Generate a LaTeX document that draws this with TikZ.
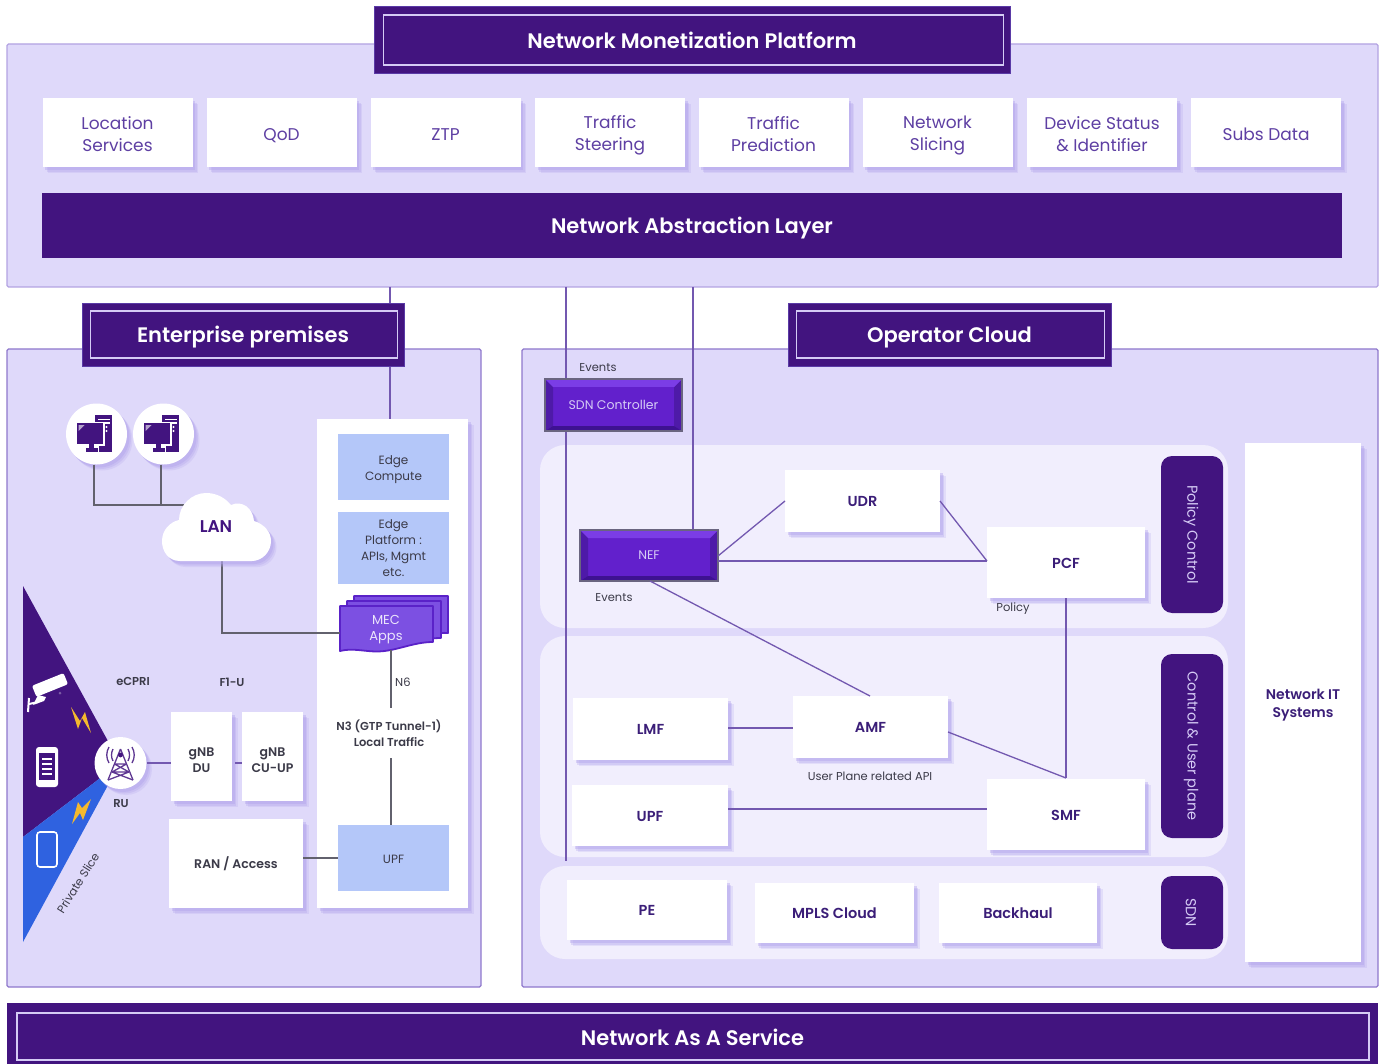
\documentclass[tikz,border=0pt]{standalone}
\usepackage{fontspec}
\setmainfont{Poppins}[BoldFont={Poppins SemiBold}]
\usetikzlibrary{shadows,calc}
\newcommand\boxstrut{\rule[-.17\baselineskip]{0pt}{\baselineskip}}
\definecolor{panelc}{HTML}{DFD9FA}
\definecolor{panelln}{HTML}{B3A3E2}
\definecolor{panelld}{HTML}{8F78CC}
\definecolor{inner}{HTML}{F1EEFD}
\definecolor{deep}{HTML}{42147F}
\definecolor{deepedge}{HTML}{5A3AA6}
\definecolor{linec}{HTML}{7358B0}
\definecolor{shade}{HTML}{B0A2EC}
\definecolor{tealtxt}{HTML}{5E3FA3}
\definecolor{cardtxt}{HTML}{3B1E78}
\definecolor{greytxt}{HTML}{3B3A48}
\definecolor{edgeb}{HTML}{B4C7F9}
\definecolor{btn}{HTML}{6220CC}
\definecolor{btnup}{HTML}{7B3DE6}
\definecolor{btndn}{HTML}{3E1291}
\definecolor{btnside}{HTML}{4E1AA8}
\definecolor{btnedge}{HTML}{6A6580}
\definecolor{mecf}{HTML}{7C50E2}
\definecolor{mecl}{HTML}{5A22C8}
\definecolor{sliceb}{HTML}{2F62E0}
\definecolor{bolt}{HTML}{F4B92E}
\definecolor{lilac}{HTML}{D5CBF5}
\tikzset{
  x=1pt,y=-1pt,
  struts/.style={execute at begin node=\boxstrut,execute at end node=\boxstrut},
  panel/.style={fill=panelc,draw=panelln,line width=1.3pt,rounded corners=1.5pt},
  lowpanel/.style={panel,draw=panelld},
  titlebox/.style={fill=deep,draw=deepedge,line width=1pt,inner sep=0pt,struts,text=white,font=\fontsize{21}{25}\selectfont\bfseries},
  titleline/.style={draw=lilac,line width=1.7pt},
  softshadow/.style={
    general shadow={shadow xshift=5.5pt,shadow yshift=-6pt,fill=shade,opacity=.22},
    general shadow={shadow xshift=4pt,shadow yshift=-4.5pt,fill=shade,opacity=.3},
    general shadow={shadow xshift=2.5pt,shadow yshift=-3pt,fill=shade,opacity=.4}},
  topcard/.style={fill=white,inner sep=0pt,softshadow,align=center,struts,text=tealtxt,font=\fontsize{17}{22}\selectfont,minimum width=150pt,minimum height=69pt},
  toptext/.style={inner sep=0pt,align=center,struts,text=tealtxt,font=\fontsize{17}{22}\selectfont},
  card/.style={fill=white,inner sep=0pt,softshadow,align=center,struts,text=cardtxt,font=\fontsize{14.5}{18}\selectfont\bfseries},
  smallcard/.style={fill=white,inner sep=0pt,softshadow,align=center,struts,text=greytxt,font=\fontsize{12.5}{16}\selectfont\bfseries},
  smalltext/.style={inner sep=0pt,align=center,struts,text=greytxt,font=\fontsize{12.5}{16}\selectfont\bfseries},
  edgebox/.style={fill=edgeb,inner sep=0pt,align=center,struts,text=greytxt,font=\fontsize{12}{16}\selectfont,minimum width=111pt},
  edgetext/.style={inner sep=0pt,align=center,struts,text=greytxt,font=\fontsize{12}{16}\selectfont},
  band/.style={fill=inner,draw=none,rounded corners=25pt,inner sep=0pt,minimum width=688pt},
  pill/.style={fill=deep,rounded corners=11pt,inner sep=0pt,minimum width=62pt},
  pilltext/.style={rotate=-90,inner sep=0pt,text=lilac,font=\fontsize{14.5}{16}\selectfont},
  lbl/.style={inner sep=0pt,text=greytxt,align=center,font=\fontsize{11.5}{16}\selectfont},
  blbl/.style={lbl,font=\fontsize{11.5}{16}\selectfont\bfseries},
  conn/.style={draw=linec,line width=1.3pt},
  greyconn/.style={draw=greytxt!80,line width=1.5pt},
  bevel/.style={fill=btn,draw=btnedge,line width=1.2pt,inner sep=0pt,text=lilac,font=\fontsize{12.5}{15}\selectfont,
    path picture={
      \fill[btnside] (path picture bounding box.north west) -- ([shift={(8pt,-8pt)}]path picture bounding box.north west) -- ([shift={(8pt,5pt)}]path picture bounding box.south west) -- (path picture bounding box.south west) -- cycle;
      \fill[btnside] (path picture bounding box.north east) -- ([shift={(-8pt,-8pt)}]path picture bounding box.north east) -- ([shift={(-8pt,5pt)}]path picture bounding box.south east) -- (path picture bounding box.south east) -- cycle;
      \fill[btnup] (path picture bounding box.north west) -- (path picture bounding box.north east) -- ([shift={(-8pt,-8pt)}]path picture bounding box.north east) -- ([shift={(8pt,-8pt)}]path picture bounding box.north west) -- cycle;
      \fill[btndn] (path picture bounding box.south west) -- (path picture bounding box.south east) -- ([shift={(-8pt,5pt)}]path picture bounding box.south east) -- ([shift={(8pt,5pt)}]path picture bounding box.south west) -- cycle;
    }},
  dot/.style={circle,fill=white,inner sep=0pt,softshadow,minimum size=61pt},
  pics/pcicon/.style={code={
    \fill[deep] (-1.5,-19) rectangle (15.5,17.5);
    \fill[white] (1,-15.5) rectangle (13,-14);
    \fill[white] (1,-12) rectangle (13,-10.5);
    \fill[white] (10,-7) circle (1.2pt) (10,-3) circle (1.2pt);
    \fill[white] (-21,-12.5) rectangle (8,11.5);
    \fill[deep] (-19.5,-11) rectangle (6.5,10);
    \fill[white] (-11.5,11) rectangle (2.5,18);
    \fill[deep] (-8,10) rectangle (-3,14);
    \fill[deep] (-11,14) rectangle (1,17.5);
    \fill[white!60!deep] (-18,-9) -- (-12,-9) -- (-18,-3) -- cycle;
  }},
}
\begin{document}
\begin{tikzpicture}
\useasboundingbox[fill=white] (0,0) rectangle (1384,1064);

% ---- top panel
\node[panel,inner sep=0pt,minimum width=1371pt,minimum height=243pt] (toppanel) at (692.5,165.5) {};
\coordinate (vA) at (390,287);
\coordinate (vB) at (566,287);
\coordinate (vC) at (693,287);

% ---- lower panels
\node[lowpanel,inner sep=0pt,minimum width=474pt,minimum height=638pt] (entpanel) at (244,668) {};
\node[lowpanel,inner sep=0pt,minimum width=856pt,minimum height=638pt] (oppanel) at (950,668) {};

% ---- bands
\node[band,minimum height=183pt] (bandA) at (884,536.5) {};
\node[band,minimum height=221pt] (bandB) at (884,746.5) {};
\node[band,minimum height=93pt] (bandC) at (884,912.5) {};

% ---- nodes that connectors attach to
\node[titlebox,minimum width=636pt,minimum height=67pt] (tMon) at (692,40) {Network Monetization Platform};
\draw[titleline] ([shift={(10pt,9pt)}]tMon.south west) rectangle ([shift={(-7pt,-9pt)}]tMon.north east);

\node[topcard] (c1) at (117.5,133) {};
\node[toptext] (c1t) at (117.5,135.5) {Location\\Services};
\node[topcard] (c2) at (281.5,133) {QoD};
\node[topcard] (c3) at (445.5,133) {ZTP};
\node[topcard] (c4) at (610,133) {};
\node[toptext] (c4t) at (610,135.5) {Traffic\\Steering};
\node[topcard] (c5) at (773.5,133) {};
\node[toptext] (c5t) at (773.5,135.5) {Traffic\\Prediction};
\node[topcard] (c6) at (937.5,133) {};
\node[toptext] (c6t) at (937.5,135.5) {Network\\Slicing};
\node[topcard] (c7) at (1102,133) {};
\node[toptext] (c7t) at (1102,135.5) {Device Status\\\& Identifier};
\node[topcard] (c8) at (1266,133) {Subs Data};
\node[fill=deep,inner sep=0pt,struts,minimum width=1300pt,minimum height=65pt,text=white,font=\fontsize{21}{25}\selectfont\bfseries] (nal) at (692,225.5) {Network Abstraction Layer};

% enterprise white column
\node[fill=white,inner sep=0pt,softshadow,minimum width=151pt,minimum height=489pt] (edgecol) at (392.5,663.5) {};

% vertical trunk lines
\draw[conn] (vA) -- (vA |- edgecol.north);
\coordinate (trunkEnd) at (566,861);
\draw[conn] (vB) -- (trunkEnd);

\node[bevel,minimum width=137pt,minimum height=52pt] (sdn) at (613.5,405) {SDN Controller};
\node[bevel,minimum width=138pt,minimum height=51pt] (nef) at (649,555.5) {NEF};
\draw[conn] (vC) -- (vC |- nef.north);

% right-hand cards
\node[card,minimum width=155pt,minimum height=62pt] (udr) at (862.5,501) {UDR};
\node[card,minimum width=158pt,minimum height=71pt] (pcf) at (1066,562.5) {PCF};
\node[card,minimum width=155pt,minimum height=62pt] (lmf) at (650.5,729) {LMF};
\node[card,minimum width=155pt,minimum height=62pt] (amf) at (870.5,727) {AMF};
\node[card,minimum width=156pt,minimum height=61pt] (upfr) at (650,815.5) {UPF};
\node[card,minimum width=158pt,minimum height=71pt] (smf) at (1066,814.5) {SMF};
\node[card,minimum width=160pt,minimum height=60pt] (pe) at (647,910) {PE};
\node[card,minimum width=159pt,minimum height=60pt] (mpls) at (834.5,913) {MPLS Cloud};
\node[card,minimum width=158pt,minimum height=60pt] (back) at (1018,913) {Backhaul};

\coordinate (nefE1) at (718,556);
\coordinate (nefE2) at (718,561);
\coordinate (nefS) at (650,581);
\coordinate (udrW) at (785,501);
\coordinate (udrE) at (940,501);
\coordinate (pcfW) at (987,561);
\coordinate (amfN) at (870,696);
\coordinate (amfE) at (948,732);
\coordinate (smfN) at (1066,778);
\coordinate (pcfS) at (1066,598);
\coordinate (upfE) at (728,809);
\coordinate (smfW) at (987,809);
\coordinate (lmfE) at (728,728);
\coordinate (amfW) at (793,728);
\draw[conn] (nefE1) -- (udrW);
\draw[conn] (udrE) -- (pcfW);
\draw[conn] (nefE2) -- (pcfW);
\draw[conn] (nefS) -- (amfN);
\draw[conn] (amfE) -- (smfN);
\draw[conn] (pcfS) -- (smfN);
\draw[conn] (lmfE) -- (amfW);
\draw[conn] (upfE) -- (smfW);

\node[pill,minimum height=157pt] (pPol) at (1192,534.5) {};
\node[pill,minimum height=184pt] (pCtl) at (1192,746) {};
\node[pill,minimum height=73pt] (pSdn) at (1192,912.5) {};
\node[pilltext] (pPolT) at (1191,534.5) {Policy Control};
\node[pilltext] (pCtlT) at (1191,746) {Control \& User plane};
\node[pilltext] (pSdnT) at (1191,912.5) {SDN};
\node[fill=white,inner sep=0pt,softshadow,minimum width=116pt,minimum height=519pt] (netit) at (1303,702.5) {};
\node[inner sep=0pt,align=center,struts,text=cardtxt,font=\fontsize{14}{18}\selectfont\bfseries] (netitT) at (1303,705) {Network IT\\Systems};

\node[lbl] (ev1) at (598,368) {Events};
\node[lbl] (ev2) at (614,598) {Events};
\node[lbl] (pol) at (1013,609) {Policy};
\node[lbl] (upapi) at (870,776) {User Plane related API};

% edge boxes
\node[edgebox,minimum height=66pt] (eb1) at (393.5,467) {};
\node[edgetext] (eb1t) at (393.5,470) {Edge\\Compute};
\node[edgebox,minimum height=72pt] (eb2) at (393.5,548) {};
\node[edgetext] (eb2t) at (393.5,549.5) {Edge\\Platform :\\APIs, Mgmt\\etc.};
\node[edgebox,minimum height=66pt] (upfl) at (393.5,858) {UPF};

% MEC stack
\coordinate (mecW) at (340,633);
\coordinate (mecS) at (391,650);
\begin{scope}[fill=mecf,draw=mecl,line width=1.8pt,line join=round]
\path[fill=mecf,draw=mecl] (354,596) -- (448,596) -- (448,633) .. controls (430,632) and (420,638) .. (400,640) -- (354,640) -- cycle;
\path[fill=mecf,draw=mecl] (347,601) -- (441,601) -- (441,638) .. controls (425,638) and (415,643) .. (395,645) -- (347,645) -- cycle;
\path[fill=mecf,draw=mecl] (340,606) -- (433,606) -- (433,642) .. controls (412,642) and (395,652) .. (375,651.5) .. controls (362,651) and (352,648) .. (340,651) -- cycle;
\end{scope}
\node[inner sep=0pt,align=center,struts,text=white!85!mecf,font=\fontsize{13}{16}\selectfont] (mec) at (386,630) {MEC\\Apps};

\coordinate (n6end) at (391,708);
\coordinate (n3top) at (391,758);
\draw[greyconn] (mecS) -- (n6end);
\draw[greyconn] (n3top) -- (n3top |- upfl.north);
\node[lbl,anchor=west] (n6) at (395,682) {N6};
\node[blbl] (n3) at (389,733) {N3 (GTP Tunnel-1)\\Local Traffic};

% PCs + LAN
\node[dot] (pc1) at (96.5,434) {};
\node[dot] (pc2) at (163.5,434) {};
\pic at (pc1) {pcicon};
\pic at (pc2) {pcicon};
\coordinate (lanW) at (184,505);
\coordinate (lanS) at (222,561);
\draw[greyconn] ([xshift=-2.5pt]pc1.south) |- (lanW);
\draw[greyconn] ([xshift=-2.5pt]pc2.south) -- ([xshift=-2.5pt]pc2.south |- lanW);
\draw[greyconn] (lanS) |- (mecW);
\fill[white,softshadow] (180,561) .. controls (168,561) and (162,551) .. (162,541) .. controls (162,530) and (170,522) .. (179,520) .. controls (179,505) and (192,493) .. (206,493) .. controls (218,493) and (226,499) .. (231,505) .. controls (242,500) and (253,508) .. (254,521) .. controls (264,524) and (271,532) .. (271,541) .. controls (271,552) and (262,561) .. (252,561) -- cycle;
\node[inner sep=0pt,struts,text=deep,font=\fontsize{17}{20}\selectfont\bfseries] (lan) at (216,526) {LAN};

% slice triangle
\fill[deep] (23,586) -- (120,763) -- (23,837) -- cycle;
\fill[sliceb] (23,837) -- (120,763) -- (23,942) -- cycle;
% camera
\fill[white,rounded corners=2pt,rotate around={22:(50,685)}] (33,679) rectangle (67,691);
\fill[white] (38,695) -- (46,697) -- (44,701) -- (33,705) -- cycle;
\draw[white,line width=2pt] (29,698) -- (28,712);
\draw[white,line width=2pt] (29,704) -- (38,702);
\fill[deep!70] (60,693) circle (1.5pt);
% phones
\fill[white,rounded corners=3pt] (36,747) rectangle (58,787);
\fill[deep] (39,753) rectangle (55,780);
\foreach \yy in {758,763,768,773} \fill[white] (42,\yy) rectangle (52,\yy+1.8);
\draw[white,line width=1.6pt,rounded corners=3pt] (37,832) rectangle (57,867);
% bolts
\fill[bolt] (71,707) -- (78,729) -- (82,718) -- (91,733) -- (85,712) -- (80,721) -- cycle;
\fill[bolt] (91,799) -- (82,808) -- (78,802) -- (72,824) -- (80,813) -- (83,820) -- cycle;
% RU
\node[dot,minimum size=52pt] (ru) at (120.5,763) {};
\begin{scope}[draw=deep!85!white,line width=1.3pt]
\draw (120.5,749) -- (108,780) (120.5,749) -- (133,780);
\draw (112,772) -- (129,772) (114.5,764) -- (126.5,764) (112,772) -- (126.5,764) (129,772) -- (114.5,764) (108,780) -- (129,772) (133,780) -- (112,772);
\fill[deep] (120.5,755) circle (2.4pt);
\draw (113,749) .. controls (111,753) and (111,757) .. (113,761);
\draw (128,749) .. controls (130,753) and (130,757) .. (128,761);
\draw (109,747) .. controls (106,752) and (106,758) .. (109,763);
\draw (132,747) .. controls (135,752) and (135,758) .. (132,763);
\end{scope}
\node[blbl] (ruT) at (121,804) {RU};
\node[blbl] (ecpri) at (133,681) {eCPRI};
\node[blbl] (f1u) at (232,682) {F1-U};
\node[lbl,rotate=58] (pslice) at (78,883) {Private Slice};

% gNB + RAN
\node[smallcard,minimum width=61pt,minimum height=89pt] (du) at (201.5,756.5) {};
\node[smalltext] (dut) at (201.5,761) {gNB\\DU};
\node[smallcard,minimum width=61pt,minimum height=89pt] (cu) at (272.5,756.5) {};
\node[smalltext] (cut) at (272.5,761) {gNB\\CU-UP};
\node[smallcard,minimum width=134pt,minimum height=89pt] (ran) at (236,863.5) {RAN / Access};
\coordinate (duE) at (235,763);
\coordinate (cuW) at (242,763);
\draw[conn] (ru.east) -- (ru.east -| du.west);
\draw[conn] (duE) -- (cuW);
\draw[greyconn] (ran.east |- upfl.west) -- (upfl.west);

% titles on top of lines
\node[titlebox,minimum width=322pt,minimum height=63pt] (tEnt2) at (243,335) {Enterprise premises};
\draw[titleline] ([shift={(9pt,9pt)}]tEnt2.south west) rectangle ([shift={(-7pt,-8pt)}]tEnt2.north east);
\node[titlebox,minimum width=323pt,minimum height=63pt] (tOp2) at (949.5,335) {Operator Cloud};
\draw[titleline] ([shift={(9pt,9pt)}]tOp2.south west) rectangle ([shift={(-7pt,-8pt)}]tOp2.north east);

% bottom bar
\node[fill=deep,inner sep=0pt,minimum width=1371pt,minimum height=61pt] (naas) at (692.5,1033.5) {};
\node[inner sep=0pt,struts,text=white,font=\fontsize{21}{25}\selectfont\bfseries] (naasT) at (692.5,1037) {Network As A Service};
\draw[titleline] (17,1013) rectangle (1369,1060);
\end{tikzpicture}
\end{document}
